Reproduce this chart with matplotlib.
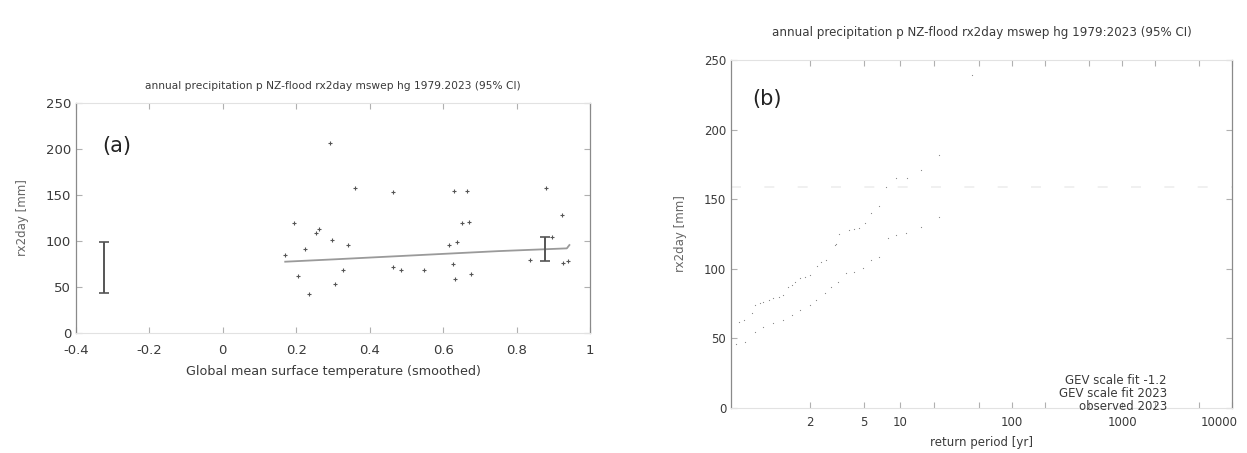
import numpy as np
import matplotlib
matplotlib.use("Agg")
import matplotlib.pyplot as plt
import matplotlib.transforms as mtransforms

plt.rcParams['font.family'] = ['DejaVu Sans']

# panel (a): observations against smoothed GMST
gmst_obs = [0.169, 0.194, 0.205, 0.224, 0.235, 0.254, 0.262, 0.292, 0.297, 0.306,
            0.328, 0.341, 0.360, 0.464, 0.464, 0.486, 0.548, 0.616, 0.627, 0.630,
            0.633, 0.638, 0.652, 0.665, 0.671, 0.676, 0.837, 0.881, 0.897, 0.924,
            0.927, 0.941]
rx2day_obs = [85, 120, 62, 91, 42, 109, 113, 206, 101, 53,
              68, 96, 158, 153, 72, 69, 69, 96, 75, 154,
              59, 99, 120, 154, 121, 64, 79, 158, 104, 128,
              76, 78]
trend_x = [0.17, 0.30, 0.45, 0.60, 0.75, 0.937, 0.944]
trend_y = [77.5, 80, 83, 86, 89, 92, 95.6]
ci_x = [-0.324, 0.878]
ci_mid = [68, 91]
ci_lo = [43.5, 78]
ci_hi = [99, 104]

# panel (b): return periods (yr) and values (mm)
rp_2023 = [1.05, 1.07, 1.11, 1.13, 1.16, 1.19, 1.24, 1.29, 1.36, 1.43,
           1.51, 1.57, 1.63, 1.74, 1.86, 2.0, 2.22, 2.39, 2.57, 2.97,
           3.04, 3.22, 3.8, 4.2, 4.6, 5.14, 5.72, 6.68, 7.61, 9.27,
           11.6, 15.2, 22.1, 43.4]
val_2023 = [62, 63, 68, 74, 75.6, 76.4, 77.6, 78.8, 80, 81,
            87, 88.4, 90.7, 93.2, 94.3, 95.5, 102, 105, 106, 117,
            118, 125, 128, 128.6, 129.3, 133, 140, 145, 159, 165,
            165, 171, 182, 239]
rp_cf = [1.04, 1.073, 1.128, 1.19, 1.29, 1.43, 1.57, 1.74, 2.0, 2.21,
         2.52, 2.80, 3.14, 3.63, 4.19, 4.91, 5.72, 6.68, 7.9, 9.27,
         11.3, 15.2, 22.1]
val_cf = [46, 47.6, 54.8, 58.4, 60.8, 63.2, 66.8, 70.4, 74, 77.6,
          82.4, 87.2, 90.7, 96.7, 98, 100.3, 106, 108.7, 121.9, 124.3,
          125.5, 130.2, 137.4]
observed_2023 = 159
legend_labels = ["GEV scale fit -1.2", "GEV scale fit 2023", "observed 2023"]
rp_ticks = [2, 5, 10, 20, 50, 100, 200, 500, 1000, 2000, 5000, 10000]
rp_labels = ["2", "5", "10", "", "", "100", "", "", "1000", "", "", "10000"]

title_a = "annual precipitation p NZ-flood rx2day mswep hg 1979.2023 (95% CI)"
title_b = "annual precipitation p NZ-flood rx2day mswep hg 1979:2023 (95% CI)"

txt = '#3a3a3a'


def gumbel(t):
    t = np.asarray(t, dtype=float)
    t = np.clip(t, 1.0000001, None)
    return -np.log(-np.log(1 - 1 / t))


def gumbel_inv(g):
    g = np.asarray(g, dtype=float)
    return 1 / (1 - np.exp(-np.exp(-g)))


def style(ax, size, pad):
    for s in ['left', 'right']:
        ax.spines[s].set_color('#8a8a8a')
        ax.spines[s].set_linewidth(0.9)
    for s in ['top', 'bottom']:
        ax.spines[s].set_color('#e2e2e2')
        ax.spines[s].set_linewidth(0.8)
    ax.tick_params(direction='in', top=True, right=True, length=4,
                   color='#b0b0b0', labelcolor=txt, labelsize=size)
    ax.tick_params(axis='x', pad=pad)
    ax.tick_params(which='minor', length=0)


fig = plt.figure(figsize=(12.47, 4.53), dpi=100)

ax1 = fig.add_axes([0.0609, 0.2649, 0.4122, 0.5077])
ax1.scatter(gmst_obs, rx2day_obs, s=5, marker='+', color='#555555', linewidths=0.8, zorder=3)
ax1.plot(trend_x, trend_y, color='#9a9a9a', lw=1.3, zorder=2)
ax1.errorbar(ci_x, ci_mid, yerr=[np.subtract(ci_mid, ci_lo), np.subtract(ci_hi, ci_mid)],
             fmt='none', ecolor='#555555', elinewidth=1.4, capsize=3.5, capthick=1.2, zorder=4)
ax1.set_xlim(-0.4, 1)
ax1.set_ylim(0, 250)
ax1.set_xticks([-0.4, -0.2, 0, 0.2, 0.4, 0.6, 0.8, 1])
ax1.set_xticklabels(["-0.4", "-0.2", "0", "0.2", "0.4", "0.6", "0.8", "1"])
ax1.set_yticks([0, 50, 100, 150, 200, 250])
style(ax1, 9.5, 8)
ax1.set_title(title_a, fontsize=7.7, color=txt, pad=10)
ax1.set_xlabel("Global mean surface temperature (smoothed)", fontsize=9.2, color=txt, labelpad=6)
ax1.set_ylabel("rx2day [mm]", fontsize=8.5, color='#666666', labelpad=12)
ax1.text(0.052, 0.785, "(a)", transform=ax1.transAxes, fontsize=15, color='#222222')

ax2 = fig.add_axes([0.5862, 0.0993, 0.4018, 0.7682])
ax2.set_xscale('function', functions=(gumbel, gumbel_inv))
ax2.axhline(observed_2023, color='#eeeeee', lw=1.2, ls=(0, (6, 14)), zorder=1)
ax2.scatter(rp_2023, val_2023, s=3, marker='.', color='#858585', linewidths=0, zorder=3)
ax2.scatter(rp_cf, val_cf, s=3, marker='.', color='#858585', linewidths=0, zorder=3)
ax2.set_xlim(1.028, 10000)
ax2.set_ylim(0, 250)
ax2.set_xticks(rp_ticks)
ax2.set_xticklabels(rp_labels)
ax2.set_yticks([0, 50, 100, 150, 200, 250])
style(ax2, 8.5, 6)
# keep the last label inside the figure
last = ax2.get_xticklabels()[-1]
last.set_transform(last.get_transform() +
                   mtransforms.ScaledTranslation(-9 / 72, 0, fig.dpi_scale_trans))
ax2.set_title(title_b, fontsize=8.6, color=txt, pad=17)
ax2.set_xlabel("return period [yr]", fontsize=8.5, color=txt, labelpad=5)
ax2.set_ylabel("rx2day [mm]", fontsize=8.5, color='#666666', labelpad=12)
ax2.text(0.042, 0.87, "(b)", transform=ax2.transAxes, fontsize=15, color='#222222')
for i, lab in enumerate(legend_labels):
    ax2.text(0.87, 0.078 - i * 0.037, lab, transform=ax2.transAxes, ha='right',
             va='center', fontsize=8.5, color=txt)

fig.savefig("out.png", dpi=100, facecolor='white')
